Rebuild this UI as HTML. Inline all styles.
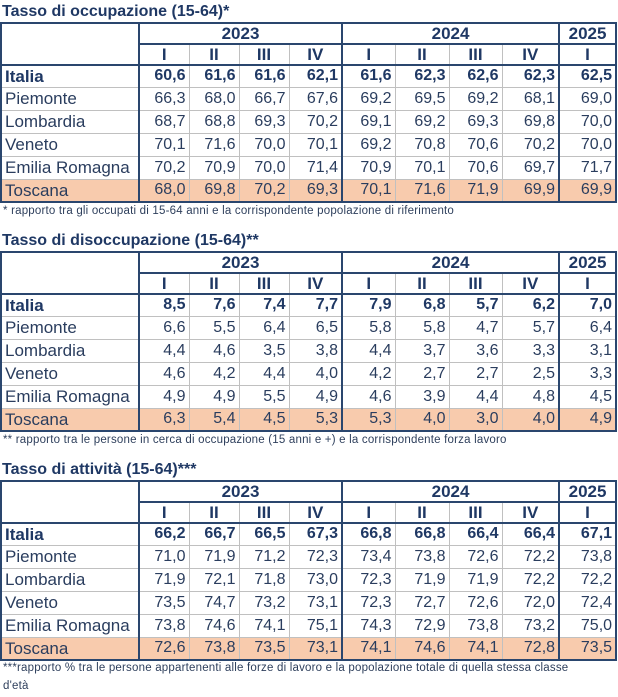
<!DOCTYPE html>
<html><head><meta charset="utf-8"><style>
body{margin:0;background:#fff;width:618px;height:697px;position:relative;font-family:"Liberation Sans",sans-serif;color:#1f3864;overflow:hidden}
.t{position:absolute;left:2px;font-weight:bold;font-size:16px;color:#1f3864}
.n{position:absolute;left:3px;font-size:11.5px;letter-spacing:0.2px;color:#2e3f5c}
table{position:absolute;left:0;border-collapse:collapse;table-layout:fixed;width:616px;border:2px solid #2a466e}
td{padding:0 3px;font-size:16px;text-align:right;border:1px solid #c0c0c0;white-space:nowrap;overflow:hidden;line-height:1;color:#2a3d5e}
td.l{text-align:left;font-size:17px;border-right:2px solid #2a466e;padding-left:3px}
tr.h td{text-align:center;font-weight:bold;font-size:17px;color:#1f3864}
tr.y td{border-bottom:2px solid #2a466e}
tr.q td{border-bottom:2px solid #2a466e}
tr.y td.l{border-bottom:2px solid #2a466e}
.b td{font-weight:bold;color:#1f3864}
.s td{background:#f8cbad}
td.v{border-right:2px solid #2a466e}
</style></head><body>

<div class="t" style="top:3px">Tasso di occupazione (15-64)*</div>
<table style="top:22px">
<colgroup><col style="width:138px"><col style="width:50px"><col style="width:50px"><col style="width:50px"><col style="width:53px"><col style="width:53px"><col style="width:54px"><col style="width:53px"><col style="width:57px"><col style="width:57px"></colgroup>
<tr class="h y" style="height:21px"><td class="l" rowspan="2"></td><td colspan="4" class="v">2023</td><td colspan="4" class="v">2024</td><td>2025</td></tr>
<tr class="h q" style="height:21px"><td>I</td><td>II</td><td>III</td><td class="v">IV</td><td>I</td><td>II</td><td>III</td><td class="v">IV</td><td>I</td></tr>
<tr class="b" style="height:22px"><td class="l">Italia</td><td>60,6</td><td>61,6</td><td>61,6</td><td class="v">62,1</td><td>61,6</td><td>62,3</td><td>62,6</td><td class="v">62,3</td><td>62,5</td></tr>
<tr style="height:23px"><td class="l">Piemonte</td><td>66,3</td><td>68,0</td><td>66,7</td><td class="v">67,6</td><td>69,2</td><td>69,5</td><td>69,2</td><td class="v">68,1</td><td>69,0</td></tr>
<tr style="height:23px"><td class="l">Lombardia</td><td>68,7</td><td>68,8</td><td>69,3</td><td class="v">70,2</td><td>69,1</td><td>69,2</td><td>69,3</td><td class="v">69,8</td><td>70,0</td></tr>
<tr style="height:23px"><td class="l">Veneto</td><td>70,1</td><td>71,6</td><td>70,0</td><td class="v">70,1</td><td>69,2</td><td>70,8</td><td>70,6</td><td class="v">70,2</td><td>70,0</td></tr>
<tr style="height:23px"><td class="l">Emilia Romagna</td><td>70,2</td><td>70,9</td><td>70,0</td><td class="v">71,4</td><td>70,9</td><td>70,1</td><td>70,6</td><td class="v">69,7</td><td>71,7</td></tr>
<tr class="s" style="height:23px"><td class="l">Toscana</td><td>68,0</td><td>69,8</td><td>70,2</td><td class="v">69,3</td><td>70,1</td><td>71,6</td><td>71,9</td><td class="v">69,9</td><td>69,9</td></tr>
</table>
<div class="n" style="top:205px">* rapporto tra gli occupati di 15-64 anni e la corrispondente popolazione di riferimento</div>

<div class="t" style="top:232px">Tasso di disoccupazione (15-64)**</div>
<table style="top:251px">
<colgroup><col style="width:138px"><col style="width:50px"><col style="width:50px"><col style="width:50px"><col style="width:53px"><col style="width:53px"><col style="width:54px"><col style="width:53px"><col style="width:57px"><col style="width:57px"></colgroup>
<tr class="h y" style="height:21px"><td class="l" rowspan="2"></td><td colspan="4" class="v">2023</td><td colspan="4" class="v">2024</td><td>2025</td></tr>
<tr class="h q" style="height:21px"><td>I</td><td>II</td><td>III</td><td class="v">IV</td><td>I</td><td>II</td><td>III</td><td class="v">IV</td><td>I</td></tr>
<tr class="b" style="height:22px"><td class="l">Italia</td><td>8,5</td><td>7,6</td><td>7,4</td><td class="v">7,7</td><td>7,9</td><td>6,8</td><td>5,7</td><td class="v">6,2</td><td>7,0</td></tr>
<tr style="height:23px"><td class="l">Piemonte</td><td>6,6</td><td>5,5</td><td>6,4</td><td class="v">6,5</td><td>5,8</td><td>5,8</td><td>4,7</td><td class="v">5,7</td><td>6,4</td></tr>
<tr style="height:23px"><td class="l">Lombardia</td><td>4,4</td><td>4,6</td><td>3,5</td><td class="v">3,8</td><td>4,4</td><td>3,7</td><td>3,6</td><td class="v">3,3</td><td>3,1</td></tr>
<tr style="height:23px"><td class="l">Veneto</td><td>4,6</td><td>4,2</td><td>4,4</td><td class="v">4,0</td><td>4,2</td><td>2,7</td><td>2,7</td><td class="v">2,5</td><td>3,3</td></tr>
<tr style="height:23px"><td class="l">Emilia Romagna</td><td>4,9</td><td>4,9</td><td>5,5</td><td class="v">4,9</td><td>4,6</td><td>3,9</td><td>4,4</td><td class="v">4,8</td><td>4,5</td></tr>
<tr class="s" style="height:23px"><td class="l">Toscana</td><td>6,3</td><td>5,4</td><td>4,5</td><td class="v">5,3</td><td>5,3</td><td>4,0</td><td>3,0</td><td class="v">4,0</td><td>4,9</td></tr>
</table>
<div class="n" style="top:434px">** rapporto tra le persone in cerca di occupazione (15 anni e +) e la corrispondente forza lavoro</div>

<div class="t" style="top:461px">Tasso di attività (15-64)***</div>
<table style="top:480px">
<colgroup><col style="width:138px"><col style="width:50px"><col style="width:50px"><col style="width:50px"><col style="width:53px"><col style="width:53px"><col style="width:54px"><col style="width:53px"><col style="width:57px"><col style="width:57px"></colgroup>
<tr class="h y" style="height:21px"><td class="l" rowspan="2"></td><td colspan="4" class="v">2023</td><td colspan="4" class="v">2024</td><td>2025</td></tr>
<tr class="h q" style="height:21px"><td>I</td><td>II</td><td>III</td><td class="v">IV</td><td>I</td><td>II</td><td>III</td><td class="v">IV</td><td>I</td></tr>
<tr class="b" style="height:22px"><td class="l">Italia</td><td>66,2</td><td>66,7</td><td>66,5</td><td class="v">67,3</td><td>66,8</td><td>66,8</td><td>66,4</td><td class="v">66,4</td><td>67,1</td></tr>
<tr style="height:23px"><td class="l">Piemonte</td><td>71,0</td><td>71,9</td><td>71,2</td><td class="v">72,3</td><td>73,4</td><td>73,8</td><td>72,6</td><td class="v">72,2</td><td>73,8</td></tr>
<tr style="height:23px"><td class="l">Lombardia</td><td>71,9</td><td>72,1</td><td>71,8</td><td class="v">73,0</td><td>72,3</td><td>71,9</td><td>71,9</td><td class="v">72,2</td><td>72,2</td></tr>
<tr style="height:23px"><td class="l">Veneto</td><td>73,5</td><td>74,7</td><td>73,2</td><td class="v">73,1</td><td>72,3</td><td>72,7</td><td>72,6</td><td class="v">72,0</td><td>72,4</td></tr>
<tr style="height:23px"><td class="l">Emilia Romagna</td><td>73,8</td><td>74,6</td><td>74,1</td><td class="v">75,1</td><td>74,3</td><td>72,9</td><td>73,8</td><td class="v">73,2</td><td>75,0</td></tr>
<tr class="s" style="height:23px"><td class="l">Toscana</td><td>72,6</td><td>73,8</td><td>73,5</td><td class="v">73,1</td><td>74,1</td><td>74,6</td><td>74,1</td><td class="v">72,8</td><td>73,5</td></tr>
</table>
<div class="n" style="top:662px">***rapporto % tra le persone appartenenti alle forze di lavoro e la popolazione totale di quella stessa classe</div>
<div class="n" style="top:680px">d'età</div>
</body></html>
